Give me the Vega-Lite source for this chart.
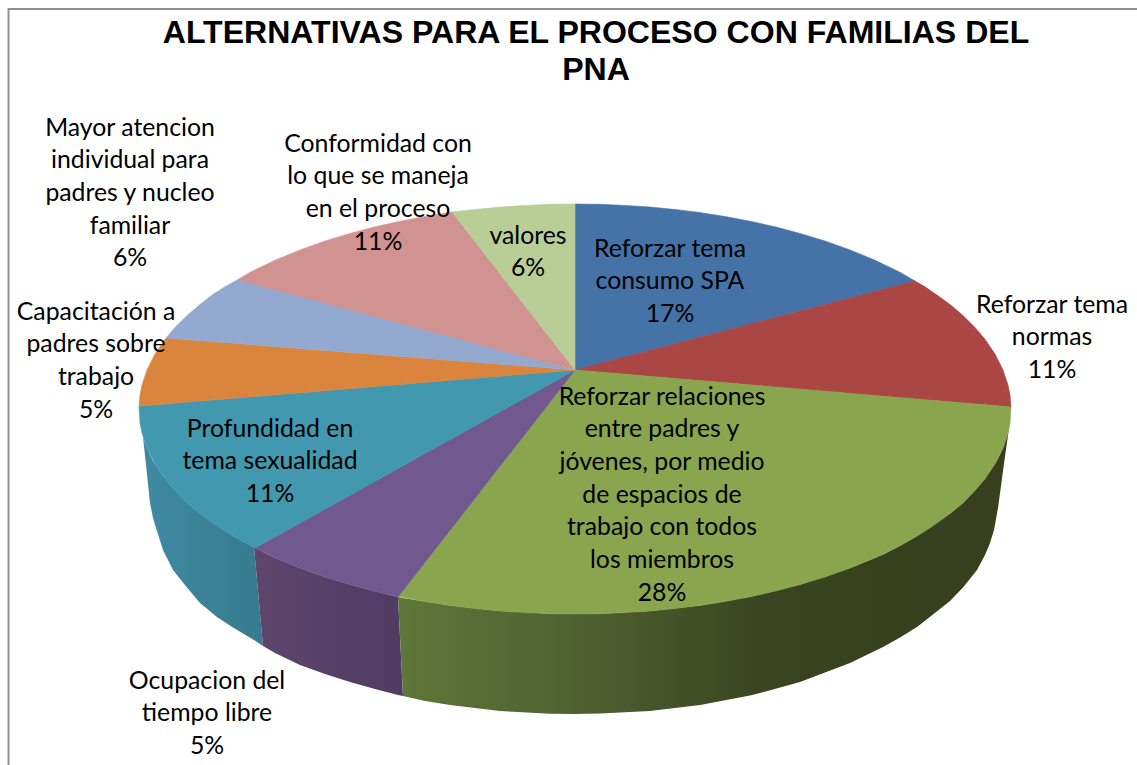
{"$schema":"https://vega.github.io/schema/vega-lite/v6.json","width":1137,"height":765,"padding":0,"autosize":"none","background":"white",
"title":{"text":["ALTERNATIVAS PARA EL PROCESO CON FAMILIAS DEL","PNA"],"font":"Liberation Sans","fontWeight":"bold","fontSize":32.05,"lineHeight":37,"color":"#000000","anchor":"middle","frame":"group","baseline":"top","dx":27.5,"dy":87.5,"offset":0},
"config":{"view":{"stroke":null}},
"datasets":{
"top":[
{"slice":"consumo","x":575,"y":204,"y2":370},{"slice":"consumo","x":600,"y":204.3,"y2":363.5},{"slice":"consumo","x":625,"y":205.4,"y2":356.9},{"slice":"consumo","x":650,"y":207.1,"y2":350.4},{"slice":"consumo","x":675,"y":209.5,"y2":343.8},{"slice":"consumo","x":700,"y":212.6,"y2":337.3},{"slice":"consumo","x":725,"y":216.5,"y2":330.7},{"slice":"consumo","x":750,"y":221.2,"y2":324.2},{"slice":"consumo","x":775,"y":226.8,"y2":317.6},{"slice":"consumo","x":800,"y":233.4,"y2":311.1},{"slice":"consumo","x":825,"y":241,"y2":304.6},{"slice":"consumo","x":850,"y":249.9,"y2":298},{"slice":"consumo","x":875,"y":260.2,"y2":291.5},{"slice":"consumo","x":900,"y":272.3,"y2":284.9},{"slice":"consumo","x":915,"y":281,"y2":281},
{"slice":"normas","x":575,"y":370,"y2":370},{"slice":"normas","x":915,"y":281,"y2":398.9},{"slice":"normas","x":925,"y":286.8,"y2":399.7},{"slice":"normas","x":937,"y":295,"y2":400.8},{"slice":"normas","x":950,"y":304.4,"y2":401.8},{"slice":"normas","x":963,"y":315.5,"y2":402.9},{"slice":"normas","x":975,"y":327.4,"y2":403.9},{"slice":"normas","x":985,"y":339.3,"y2":404.8},{"slice":"normas","x":995,"y":354,"y2":405.6},{"slice":"normas","x":1003,"y":369.9,"y2":406.3},{"slice":"normas","x":1008,"y":385,"y2":406.7},{"slice":"normas","x":1010,"y":395,"y2":406.9},{"slice":"normas","x":1011,"y":407,"y2":407},
{"slice":"relaciones","x":398,"y":597,"y2":597},{"slice":"relaciones","x":400,"y":594.4,"y2":596.8},{"slice":"relaciones","x":425,"y":562.4,"y2":601.5},{"slice":"relaciones","x":450,"y":530.3,"y2":605.4},{"slice":"relaciones","x":475,"y":498.2,"y2":608.5},{"slice":"relaciones","x":500,"y":466.2,"y2":610.9},{"slice":"relaciones","x":525,"y":434.1,"y2":612.6},{"slice":"relaciones","x":550,"y":402.1,"y2":613.7},{"slice":"relaciones","x":575,"y":370,"y2":614},{"slice":"relaciones","x":600,"y":372.1,"y2":613.7},{"slice":"relaciones","x":625,"y":374.2,"y2":612.6},{"slice":"relaciones","x":650,"y":376.4,"y2":610.9},{"slice":"relaciones","x":675,"y":378.5,"y2":608.5},{"slice":"relaciones","x":700,"y":380.6,"y2":605.4},{"slice":"relaciones","x":725,"y":382.7,"y2":601.5},{"slice":"relaciones","x":750,"y":384.9,"y2":596.8},{"slice":"relaciones","x":775,"y":387,"y2":591.2},{"slice":"relaciones","x":800,"y":389.1,"y2":584.6},{"slice":"relaciones","x":825,"y":391.2,"y2":577},{"slice":"relaciones","x":850,"y":393.3,"y2":568.1},{"slice":"relaciones","x":875,"y":395.5,"y2":557.8},{"slice":"relaciones","x":900,"y":397.6,"y2":545.7},{"slice":"relaciones","x":925,"y":399.7,"y2":531.2},{"slice":"relaciones","x":937,"y":400.8,"y2":523},{"slice":"relaciones","x":950,"y":401.8,"y2":513.6},{"slice":"relaciones","x":963,"y":402.9,"y2":503},{"slice":"relaciones","x":975,"y":403.9,"y2":490.6},{"slice":"relaciones","x":985,"y":404.8,"y2":478.7},{"slice":"relaciones","x":995,"y":405.6,"y2":464},{"slice":"relaciones","x":1003,"y":406.3,"y2":448.1},{"slice":"relaciones","x":1008,"y":406.7,"y2":433},{"slice":"relaciones","x":1010,"y":406.9,"y2":423},{"slice":"relaciones","x":1011,"y":407,"y2":407},
{"slice":"ocupacion","x":255,"y":548,"y2":548},{"slice":"ocupacion","x":275,"y":536.9,"y2":557.8},{"slice":"ocupacion","x":300,"y":523,"y2":568.1},{"slice":"ocupacion","x":325,"y":509.1,"y2":577},{"slice":"ocupacion","x":350,"y":495.2,"y2":584.6},{"slice":"ocupacion","x":375,"y":481.3,"y2":591.2},{"slice":"ocupacion","x":398,"y":468.5,"y2":597},{"slice":"ocupacion","x":575,"y":370,"y2":370},
{"slice":"sexualidad","x":139,"y":406,"y2":406},{"slice":"sexualidad","x":140,"y":405.9,"y2":423},{"slice":"sexualidad","x":142,"y":405.8,"y2":433},{"slice":"sexualidad","x":147,"y":405.4,"y2":448.1},{"slice":"sexualidad","x":155,"y":404.7,"y2":464},{"slice":"sexualidad","x":165,"y":403.9,"y2":478.7},{"slice":"sexualidad","x":175,"y":403,"y2":490.6},{"slice":"sexualidad","x":187,"y":402,"y2":503},{"slice":"sexualidad","x":200,"y":401,"y2":513.6},{"slice":"sexualidad","x":212,"y":400,"y2":523},{"slice":"sexualidad","x":225,"y":398.9,"y2":531.2},{"slice":"sexualidad","x":250,"y":396.8,"y2":545.7},{"slice":"sexualidad","x":255,"y":396.4,"y2":548},{"slice":"sexualidad","x":575,"y":370,"y2":370},
{"slice":"capacitacion","x":139,"y":406,"y2":406},{"slice":"capacitacion","x":140,"y":395,"y2":405.9},{"slice":"capacitacion","x":142,"y":385,"y2":405.8},{"slice":"capacitacion","x":147,"y":369.9,"y2":405.4},{"slice":"capacitacion","x":155,"y":354,"y2":404.7},{"slice":"capacitacion","x":165,"y":339.3,"y2":403.9},{"slice":"capacitacion","x":166,"y":338,"y2":403.8},{"slice":"capacitacion","x":575,"y":370,"y2":370},
{"slice":"atencion","x":166,"y":338,"y2":338},{"slice":"atencion","x":175,"y":327.4,"y2":338.7},{"slice":"atencion","x":187,"y":315.5,"y2":339.6},{"slice":"atencion","x":200,"y":304.4,"y2":340.7},{"slice":"atencion","x":212,"y":295,"y2":341.6},{"slice":"atencion","x":225,"y":286.8,"y2":342.6},{"slice":"atencion","x":238,"y":279.5,"y2":343.6},{"slice":"atencion","x":575,"y":370,"y2":370},
{"slice":"conformidad","x":238,"y":279.5,"y2":279.5},{"slice":"conformidad","x":250,"y":272.3,"y2":283.2},{"slice":"conformidad","x":275,"y":260.2,"y2":289.9},{"slice":"conformidad","x":300,"y":249.9,"y2":296.6},{"slice":"conformidad","x":325,"y":241,"y2":303.3},{"slice":"conformidad","x":350,"y":233.4,"y2":309.9},{"slice":"conformidad","x":375,"y":226.8,"y2":316.6},{"slice":"conformidad","x":400,"y":221.2,"y2":323.3},{"slice":"conformidad","x":425,"y":216.5,"y2":330},{"slice":"conformidad","x":452,"y":212,"y2":337.2},{"slice":"conformidad","x":575,"y":370,"y2":370},
{"slice":"valores","x":452,"y":212,"y2":212},{"slice":"valores","x":475,"y":209.5,"y2":241.5},{"slice":"valores","x":500,"y":207.1,"y2":273.7},{"slice":"valores","x":525,"y":205.4,"y2":305.8},{"slice":"valores","x":550,"y":204.3,"y2":337.9},{"slice":"valores","x":575,"y":204,"y2":370}
],
"wallGreen":[{"x":398,"y":597,"y2":597},{"x":403,"y":598,"y2":696},{"x":425,"y":601.5,"y2":701},{"x":450,"y":605.4,"y2":705},{"x":500,"y":610.9,"y2":711},{"x":550,"y":613.7,"y2":713.8},{"x":575,"y":614,"y2":714},{"x":600,"y":613.7,"y2":713.4},{"x":650,"y":610.9,"y2":711},{"x":700,"y":605.4,"y2":705},{"x":750,"y":596.8,"y2":695.5},{"x":760,"y":594.6,"y2":693},{"x":800,"y":584.6,"y2":682},{"x":850,"y":568,"y2":663},{"x":883,"y":554.5,"y2":647},{"x":900,"y":545.7,"y2":637.5},{"x":917,"y":536,"y2":627},{"x":933,"y":525,"y2":614.5},{"x":950,"y":513.6,"y2":601},{"x":963,"y":503,"y2":587.5},{"x":977,"y":488,"y2":570},{"x":985,"y":478.7,"y2":555},{"x":990,"y":471,"y2":543},{"x":994,"y":465,"y2":530},{"x":998,"y":458.6,"y2":508},{"x":1003,"y":448,"y2":471},{"x":1008,"y":433,"y2":435},{"x":1010,"y":424,"y2":424}],
"wallPurple":[{"x":254,"y":547,"y2":547},{"x":263,"y":552,"y2":646},{"x":275,"y":557.8,"y2":653},{"x":300,"y":568.1,"y2":665},{"x":325,"y":577,"y2":674},{"x":350,"y":584.6,"y2":682},{"x":375,"y":591.2,"y2":689},{"x":398,"y":597,"y2":695},{"x":403,"y":696,"y2":696}],
"wallTeal":[{"x":143,"y":437,"y2":437},{"x":146,"y":445.5,"y2":465},{"x":150,"y":454.7,"y2":503},{"x":153,"y":461,"y2":518},{"x":157,"y":467,"y2":531},{"x":163,"y":476,"y2":550},{"x":173,"y":488,"y2":570},{"x":187,"y":503,"y2":587.5},{"x":200,"y":513.6,"y2":603},{"x":217,"y":525.5,"y2":617},{"x":233,"y":536,"y2":627.5},{"x":254,"y":547,"y2":640},{"x":263,"y":646,"y2":646}],
"labels":[
{"label":"Mayor atencion\nindividual para\npadres y nucleo\nfamiliar\n6%","x":130,"y":128.5},
{"label":"Conformidad con\nlo que se maneja\nen el proceso\n11%","x":378,"y":144.5},
{"label":"valores\n6%","x":528,"y":236.5},
{"label":"Reforzar tema\nconsumo SPA\n17%","x":670,"y":249.5},
{"label":"Reforzar tema\nnormas\n11%","x":1052,"y":305.5},
{"label":"Capacitación a\npadres sobre\ntrabajo\n5%","x":96,"y":312.5},
{"label":"Reforzar relaciones\nentre padres y\njóvenes, por medio\nde espacios de\ntrabajo con todos\nlos miembros\n28%","x":662,"y":397.5},
{"label":"Profundidad en\ntema sexualidad\n11%","x":270,"y":429.5},
{"label":"Ocupacion del\ntiempo libre\n5%","x":207,"y":681.5}
],
"frame":[{"x":8.5,"x2":1145,"y":9,"y2":775}]
},
"layer":[
{"data":{"name":"frame"},"mark":{"type":"rect","fill":"white","stroke":"#8f8f8f","strokeWidth":2,"clip":true},"encoding":{"x":{"field":"x","type":"quantitative","scale":{"domain":[0,1137],"nice":false,"zero":false},"axis":null},"x2":{"field":"x2"},"y":{"field":"y","type":"quantitative","scale":{"domain":[765,0],"nice":false,"zero":false},"axis":null},"y2":{"field":"y2"}}},
{"data":{"name":"wallTeal"},"mark":{"type":"area","color":{"gradient":"linear","x1":0,"x2":1,"y1":0,"y2":0,"stops":[{"offset":0,"color":"#3f8aa2"},{"offset":1,"color":"#367a8e"}]}},"encoding":{"x":{"field":"x","type":"quantitative","axis":null},"y":{"field":"y","type":"quantitative","stack":null,"axis":null},"y2":{"field":"y2"}}},
{"data":{"name":"wallPurple"},"mark":{"type":"area","color":{"gradient":"linear","x1":0,"x2":1,"y1":0,"y2":0,"stops":[{"offset":0,"color":"#5e456c"},{"offset":1,"color":"#503b62"}]}},"encoding":{"x":{"field":"x","type":"quantitative","axis":null},"y":{"field":"y","type":"quantitative","stack":null,"axis":null},"y2":{"field":"y2"}}},
{"data":{"name":"wallGreen"},"mark":{"type":"area","color":{"gradient":"linear","x1":0,"x2":1,"y1":0,"y2":0,"stops":[{"offset":0,"color":"#5f773a"},{"offset":0.3,"color":"#4f6030"},{"offset":0.62,"color":"#39431f"},{"offset":1,"color":"#373f1e"}]}},"encoding":{"x":{"field":"x","type":"quantitative","axis":null},"y":{"field":"y","type":"quantitative","stack":null,"axis":null},"y2":{"field":"y2"}}},
{"data":{"name":"top"},"mark":{"type":"area","strokeWidth":0.6},"encoding":{"x":{"field":"x","type":"quantitative","axis":null},"y":{"field":"y","type":"quantitative","stack":null,"axis":null},"y2":{"field":"y2"},"color":{"field":"slice","type":"nominal","legend":null,"scale":{"domain":["consumo","normas","relaciones","ocupacion","sexualidad","capacitacion","atencion","conformidad","valores"],"range":["#4572a7","#aa4643","#89a54e","#71588f","#4198af","#db843d","#93a9cf","#d19392","#b9cd96"]}},"stroke":{"field":"slice","type":"nominal","legend":null,"scale":{"domain":["consumo","normas","relaciones","ocupacion","sexualidad","capacitacion","atencion","conformidad","valores"],"range":["#4572a7","#aa4643","#89a54e","#71588f","#4198af","#db843d","#93a9cf","#d19392","#b9cd96"]}}}},
{"data":{"name":"labels"},"mark":{"type":"text","font":"Lato","fontSize":24.8,"lineHeight":32.7,"lineBreak":"\n","align":"center","baseline":"middle","color":"#000000"},"encoding":{"x":{"field":"x","type":"quantitative","axis":null},"y":{"field":"y","type":"quantitative","axis":null},"text":{"field":"label","type":"nominal"}}}
]}
